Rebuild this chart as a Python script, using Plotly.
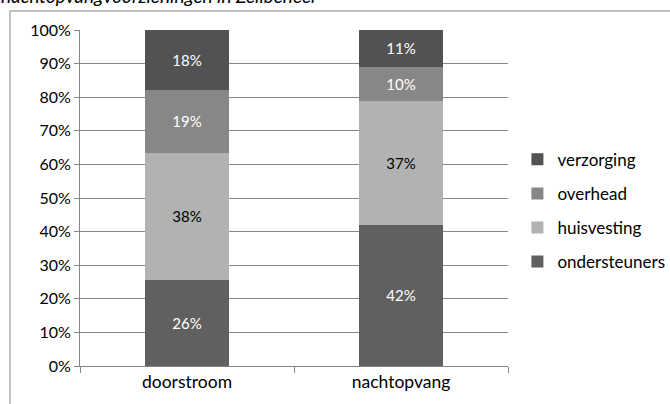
import plotly.graph_objects as go

categories = ["doorstroom", "nachtopvang"]
series_names = ["ondersteuners", "huisvesting", "overhead", "verzorging"]
ondersteuners = [26, 42]
huisvesting = [38, 37]
overhead = [19, 10]
verzorging = [18, 11]
y_ticks = list(range(0, 101, 10))
y_tick_labels = [f"{t}%" for t in y_ticks]

values = [ondersteuners, huisvesting, overhead, verzorging]
colors = ["#606060", "#b2b2b2", "#878787", "#525252"]
text_colors = ["white", "black", "white", "white"]
legend_ranks = [4, 3, 2, 1]

FONT = "Lato"

fig = go.Figure()
for name, vals, col, tc, rk in zip(series_names, values, colors, text_colors, legend_ranks):
    fig.add_trace(go.Bar(
        x=categories, y=vals, name=name, legendgroup=name, legendrank=rk,
        marker=dict(color=col, line=dict(width=0)),
        text=[f"{v}%" for v in vals], textposition="inside",
        insidetextanchor="middle", textangle=0,
        textfont=dict(color=tc, size=15, family=FONT),
        hoverinfo="skip",
    ))

fig.update_layout(
    width=670, height=404,
    barmode="stack", barnorm="percent", bargap=0.61,
    margin=dict(l=80, r=162, t=30, b=38, autoexpand=False),
    paper_bgcolor="white", plot_bgcolor="white",
    font=dict(family=FONT, size=15, color="black"),
    uniformtext=dict(minsize=15, mode="show"),
    legend=dict(
        x=1.022, y=0.462, xanchor="left", yanchor="middle",
        traceorder="grouped", tracegroupgap=9,
        font=dict(size=17, family=FONT), itemwidth=30,
    ),
    xaxis=dict(
        automargin=False,
        showline=True, linecolor="#868686", linewidth=1,
        ticks="outside", tickcolor="#868686", ticklen=6,
        tickson="boundaries", showgrid=False,
        tickfont=dict(size=17.5, family=FONT),
    ),
    yaxis=dict(
        automargin=False,
        range=[0, 100], tickvals=y_ticks, ticktext=y_tick_labels,
        showline=True, linecolor="#868686", linewidth=1,
        ticks="outside", tickcolor="#868686", ticklen=5,
        showgrid=True, gridcolor="#868686", gridwidth=1,
        zeroline=False, tickfont=dict(size=16, family=FONT),
    ),
    shapes=[dict(
        type="rect", xref="paper", yref="paper",
        x0=-0.1636, x1=1.5, y0=-0.3, y1=1.0566,
        line=dict(color="#868686", width=1), fillcolor="rgba(0,0,0,0)",
        layer="below",
    )],
    annotations=[dict(
        text="<i>nachtopvangvoorzieningen in Zeilbeheer</i>",
        xref="paper", yref="paper", x=-0.19, y=1.062,
        xanchor="left", yanchor="bottom", showarrow=False,
        font=dict(size=19, family=FONT, color="black"),
    )],
)

fig.write_html(
    "out.html",
    config={"displayModeBar": False},
    post_script="document.body.style.margin='0';document.body.style.overflow='hidden';",
)
